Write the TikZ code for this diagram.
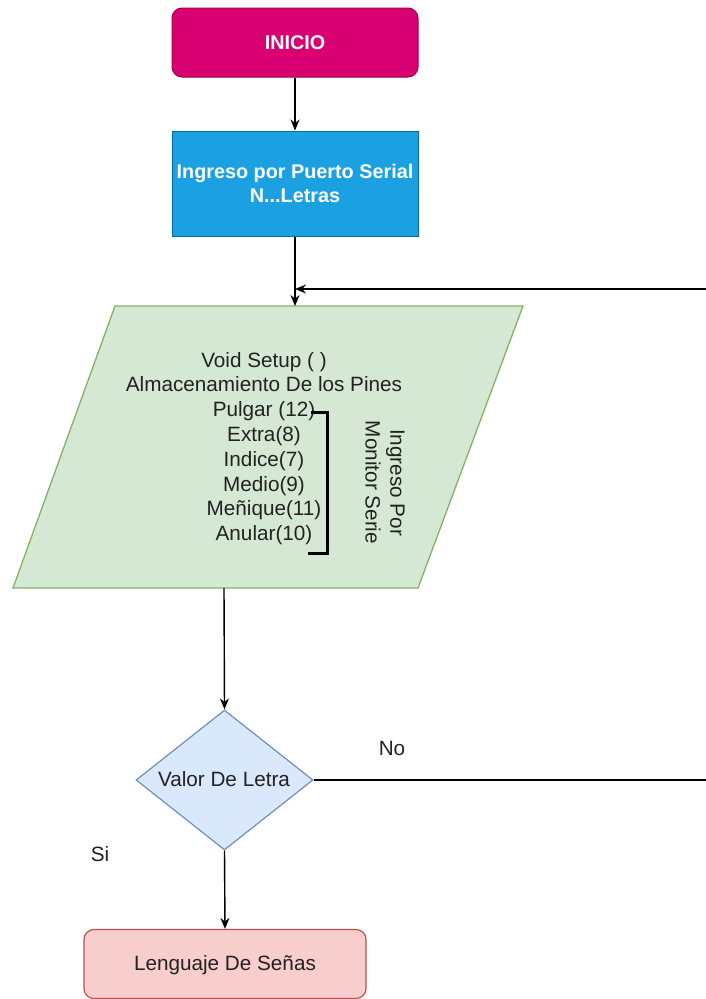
\documentclass[tikz,border=0pt]{standalone}
\usepackage{fontspec}
\setmainfont{Liberation Sans}
\usetikzlibrary{arrows.meta,shapes.geometric}

\definecolor{startfill}{HTML}{D80073}
\definecolor{startline}{HTML}{A50040}
\definecolor{inputfill}{HTML}{1BA1E2}
\definecolor{inputline}{HTML}{006EAF}
\definecolor{setupfill}{HTML}{D5E8D4}
\definecolor{setupline}{HTML}{82B366}
\definecolor{decfill}{HTML}{DAE8FC}
\definecolor{decline}{HTML}{6C8EBF}
\definecolor{endfill}{HTML}{F8CECC}
\definecolor{endline}{HTML}{B85450}
\definecolor{ink}{HTML}{222222}

\tikzset{
  txt/.style={font=\fontsize{20.7}{24.8}\selectfont, text=ink, align=center, inner sep=0pt},
  boldtxt/.style={txt, font=\fontsize{19.8}{24.8}\selectfont\bfseries, text=white},
  flow/.style={draw=black, line width=1.4pt, -{Stealth[length=11pt,width=9pt]}},
}

\begin{document}
\begin{tikzpicture}[x=1pt,y=-1pt]
\useasboundingbox (0,0) rectangle (706,999);

% start block
\node[draw=startline, fill=startfill, line width=1pt, rounded corners=10pt,
      minimum width=246pt, minimum height=69pt, boldtxt] (inicio) at (295,42.5) {INICIO};

% serial input block
\node[draw=inputline, fill=inputfill, line width=1pt,
      minimum width=246pt, minimum height=105pt, boldtxt] (serial) at (295,183.5)
      {Ingreso por Puerto Serial\\N...Letras};

% setup parallelogram
\fill[setupfill, draw=setupline, line width=1.3pt]
  (115,306) -- (523,306) -- (418,588) -- (13,588) -- cycle;
\coordinate (setuptop) at (295,306);
\coordinate (setupbot) at (224,588);

\node[txt] (pins) at (264,448.5)
  {Void Setup ( )\\Almacenamiento De los Pines\\Pulgar (12)\\Extra(8)\\Indice(7)\\Medio(9)\\Meñique(11)\\Anular(10)};

% bracket grouping the pins
\draw[black, line width=3pt] (311,412) -- (327,412) -- (327,553) -- (308,553);
\node[txt, rotate=-90] (monitor) at (385,482.5) {Ingreso Por\\Monitor Serie};

% decision
\node[draw=decline, fill=decfill, line width=1.2pt, diamond, aspect=1.264,
      minimum width=177pt, minimum height=140pt, inner sep=0pt] (valor) at (224.5,780) {};
\node[txt] (valortxt) at (224,779) {Valor De Letra};

% end block
\node[draw=endline, fill=endfill, line width=1.2pt, rounded corners=10pt,
      minimum width=282pt, minimum height=69pt] (senas) at (225,964) {};
\node[txt] (senastxt) at (225,965.5) {Lenguaje De Señas};

% branch labels
\node[txt] (nolbl) at (392,748) {No};
\node[txt] (silbl) at (100,854) {Si};

% connectors
\draw[flow] (inicio.south) -- (serial.north);
\draw[flow] (serial.south) -- (setuptop);
\draw[flow] (setupbot) -- (valor.north);
\draw[flow] (valor.south) -- (senas.north);

% loop back for the next letter
\coordinate (loopin) at (295,289);
\coordinate (loopa) at (740,780);
\coordinate (loopb) at (740,289);
\draw[flow] (valor.east) -- (loopa) -- (loopb) -- (loopin);
\end{tikzpicture}
\end{document}
